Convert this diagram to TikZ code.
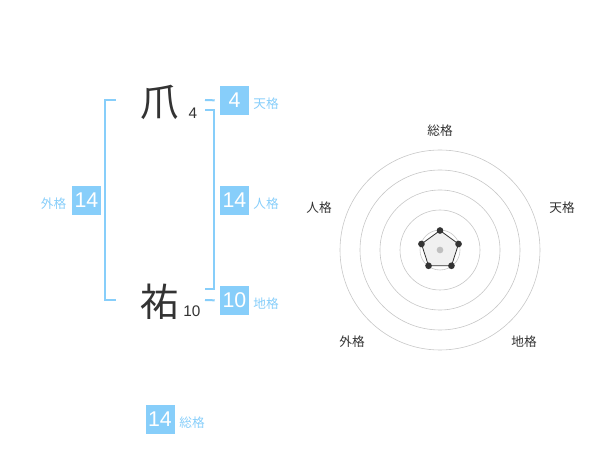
\documentclass[tikz,border=0pt]{standalone}
\usepackage{fontspec}
\setmainfont{Liberation Sans}
\newfontfamily\jpfont{Noto Sans CJK JP}
\usepackage{xcolor}
\definecolor{kakublue}{RGB}{135,206,250}
\definecolor{inkgray}{RGB}{51,51,51}
\usepackage{tikz}
\usetikzlibrary{positioning,calc}

\begin{document}
\begin{tikzpicture}[x=0.75pt,y=-0.75pt,
      numbox/.style={rectangle,fill=kakublue,text=white,minimum size=21.75pt,inner sep=0pt,font=\fontsize{16}{16}\selectfont},
      kaku/.style={text=kakublue,font=\jpfont\fontsize{9.5}{10}\selectfont,inner sep=0pt},
      bigchar/.style={text=inkgray,font=\jpfont\fontsize{29}{29}\selectfont,inner sep=0pt},
      strokes/.style={text=inkgray,font=\fontsize{11.5}{11.5}\selectfont,inner sep=0pt},
      brk/.style={draw=kakublue,line width=1.5pt},
      ring/.style={draw=black!22,line width=0.45pt},
      axislab/.style={text=inkgray,font=\jpfont\fontsize{9.5}{10}\selectfont,inner sep=0pt},
      vdot/.style={circle,fill=inkgray,inner sep=0pt,minimum size=5pt}]
    \useasboundingbox (0,0) rectangle (600,470);
    % name characters with stroke counts
    \node[bigchar] (c1) at (160,102) {爪};
    \node[strokes] (n1) at (193,113) {4};
    \node[bigchar] (c2) at (160,302) {祐};
    \node[strokes] (n2) at (192,311) {10};
    % the five values
    \node[numbox] (ten) at (234.5,100.5) {4};
    \node[kaku] (tenl) at (266,104) {天格};
    \node[numbox] (jin) at (234.5,200.5) {14};
    \node[kaku] (jinl) at (266,204) {人格};
    \node[numbox] (chi) at (234.5,300.5) {10};
    \node[kaku] (chil) at (266,304) {地格};
    \node[numbox] (gai) at (86.5,200.5) {14};
    \node[kaku] (gail) at (53.5,204) {外格};
    \node[numbox] (sou) at (160,419) {14};
    \node[kaku] (soul) at (192,423) {総格};
    % brackets
    \coordinate (lt) at (115.5,100);
    \coordinate (lb) at (115.5,300);
    \draw[brk] (lt) -- ++(-10.5,0) |- (lb);
    \coordinate (rt) at (205,110);
    \coordinate (rb) at (205,289.5);
    \draw[brk] (rt) -- ++(8.5,0) |- (rb);
    \coordinate (tt) at (205,100);
    \coordinate (ct) at (205,300);
    \draw[brk,shorten >=3.75pt] (tt) -- (ten.west);
    \draw[brk,shorten >=3.75pt] (ct) -- (chi.west);
    % radar chart
    \coordinate (rc) at (440,250);
    \foreach \r in {20,40,60,80,100} {
      \draw[ring] (rc) circle[radius=\r];
    }
    \foreach \a/\nm in {-90/vs, -18/vt, 54/vc, 126/vg, 198/vj} {
      \coordinate (\nm) at ($(rc)+(\a:19.5)$);
    }
    \draw[fill=black!6,draw=inkgray,line width=0.6pt] (vs) -- (vt) -- (vc) -- (vg) -- (vj) -- cycle;
    \foreach \nm in {vs,vt,vc,vg,vj} {
      \node[vdot] at (\nm) {};
    }
    \node[circle,fill=black!25,inner sep=0pt,minimum size=5pt] (rcd) at (rc) {};
    \node[axislab] (ax1) at (440,131) {総格};
    \node[axislab] (ax2) at (562,208) {天格};
    \node[axislab] (ax3) at (319,208) {人格};
    \node[axislab] (ax4) at (352,342) {外格};
    \node[axislab] (ax5) at (524,342) {地格};
  \end{tikzpicture}
\end{document}
